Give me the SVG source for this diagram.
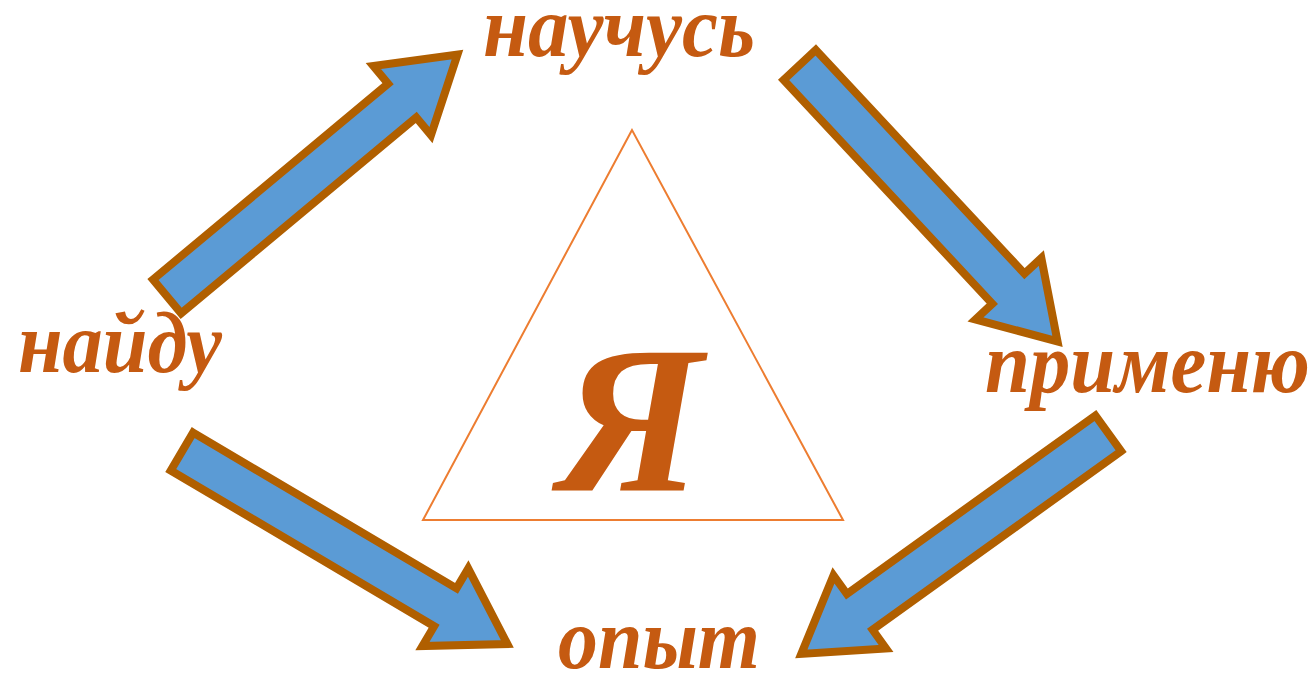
<svg xmlns="http://www.w3.org/2000/svg" width="1314" height="674" viewBox="0 0 1314 674">
<style>
.arr{fill:#5B9BD5;stroke:#B05F00;stroke-width:8;stroke-linejoin:miter;stroke-miterlimit:10}
.lbl{font-family:"Liberation Serif","DejaVu Serif",serif;font-style:italic;font-weight:bold;fill:#C55A11}
</style>
<defs>
<path id="arrow" d="M4,-22 L310,-22 L310,-45 L382,0 L310,45 L310,22 L4,22 Z"/>
</defs>
<rect width="1314" height="674" fill="#fff"/>
<g id="triangle">
<polygon points="632,130 423,520 843,520" fill="none" stroke="#ED7D31" stroke-width="2"/>
<text class="lbl" x="630" y="490" font-size="210" text-anchor="middle">Я</text>
</g>
<g id="connectors">
<use href="#arrow" class="arr" transform="translate(164,299) rotate(-39.8)"/>
<use href="#arrow" class="arr" transform="translate(797,62) rotate(47)"/>
<use href="#arrow" class="arr" transform="translate(178.5,449.5) rotate(30.6)"/>
<use href="#arrow" class="arr" transform="translate(1111.5,431) rotate(144.3)"/>
</g>
<g id="node-nauchus"><text class="lbl" x="483" y="56" font-size="86" textLength="272" lengthAdjust="spacingAndGlyphs">научусь</text></g>
<g id="node-naydu"><text class="lbl" x="18" y="372" font-size="86" textLength="204" lengthAdjust="spacingAndGlyphs">найду</text></g>
<g id="node-primenyu"><text class="lbl" x="985" y="392" font-size="86" textLength="325" lengthAdjust="spacingAndGlyphs">применю</text></g>
<g id="node-opyt"><text class="lbl" x="558" y="668" font-size="86" textLength="202" lengthAdjust="spacingAndGlyphs">опыт</text></g>
</svg>
